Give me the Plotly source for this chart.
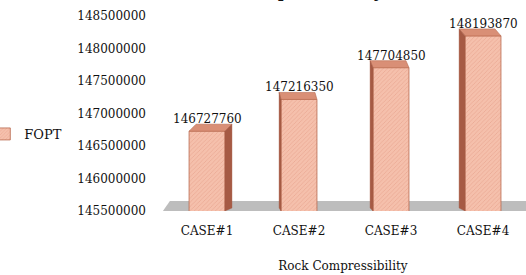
import plotly.graph_objects as go

# ---- data ----
categories = ["CASE#1", "CASE#2", "CASE#3", "CASE#4"]
fopt_values = [146727760, 147216350, 147704850, 148193870]
series_name = "FOPT"
y_tick_values = [145500000, 146000000, 146500000, 147000000, 147500000, 148000000, 148500000]
x_title = "Rock Compressibility"
chart_title = "FOPT vs Rock Compressibility"

# ---- style ----
W, H = 526, 275
ML, MR, MT, MB = 160, 0, 16, 64
Y_MIN, Y_MAX = 145500000, 148500000
X_RANGE = [-0.511, 3.467]
BAR_W = 0.39
FONT = "DejaVu Serif"
FACE = "#F5C0AC"
PAT = "#E0907A"
EDGE = "#B8694F"
TOP = "#D98F76"
SIDE = "#A65A44"
FLOOR = "#BDBDBD"
side_px = [7, -2, -3, -6]   # perspective offset of each bar's depth faces, in px
depth_px = 7

plot_w = W - ML - MR
plot_h = H - MT - MB
px_x = (X_RANGE[1] - X_RANGE[0]) / plot_w
px_y = (Y_MAX - Y_MIN) / plot_h

xs = list(range(len(categories)))

fig = go.Figure()
fig.add_trace(go.Bar(
    x=xs, y=fopt_values, name=series_name, width=BAR_W,
    marker=dict(color=FACE, line=dict(color=EDGE, width=0.8),
                pattern=dict(shape="/", size=3, solidity=0.25, fgcolor=PAT, bgcolor=FACE)),
    showlegend=True, hoverinfo="skip",
))

shapes = []
# floor
dy_floor = 10 * px_y
shapes.append(dict(type="path", xref="paper", yref="y", layer="below",
                   path=f"M 0.008 {Y_MIN} L 1 {Y_MIN} L 1 {Y_MIN + dy_floor} L 0.027 {Y_MIN + dy_floor} Z",
                   fillcolor=FLOOR, line=dict(width=0)))

annotations = []
for i, v in enumerate(fopt_values):
    x0, x1 = i - BAR_W / 2, i + BAR_W / 2
    dx = side_px[i] * px_x
    dy = depth_px * px_y
    # top face
    shapes.append(dict(type="path", xref="x", yref="y", layer="above",
                       path=f"M {x0} {v} L {x1} {v} L {x1 + dx} {v + dy} L {x0 + dx} {v + dy} Z",
                       fillcolor=TOP, line=dict(color=EDGE, width=0.6)))
    # side face
    xs_edge = x1 if dx > 0 else x0
    shapes.append(dict(type="path", xref="x", yref="y", layer="above",
                       path=f"M {xs_edge} {Y_MIN} L {xs_edge} {v} L {xs_edge + dx} {v + dy} L {xs_edge + dx} {Y_MIN + dy_floor * 0.3} Z",
                       fillcolor=SIDE, line=dict(color=SIDE, width=0.4)))
    annotations.append(dict(x=i, y=v, xref="x", yref="y", text=str(v), showarrow=False,
                            yanchor="bottom", yshift=3, font=dict(family=FONT, size=12, color="#111111")))

# clipped title (only descenders visible in reference)
annotations.append(dict(xref="paper", yref="paper", x=(387 - ML) / plot_w, y=1, xanchor="right",
                        yanchor="bottom", yshift=13, text=chart_title, showarrow=False,
                        font=dict(family=FONT, size=19, color="#111111")))

fig.update_layout(
    width=W, height=H,
    margin=dict(l=ML, r=MR, t=MT, b=MB, pad=0, autoexpand=False),
    paper_bgcolor="white", plot_bgcolor="white",
    font=dict(family=FONT, size=12, color="#111111"),
    shapes=shapes, annotations=annotations,
    showlegend=True,
    legend=dict(x=-0.48, y=0.395, xanchor="left", yanchor="middle",
                font=dict(family=FONT, size=13, color="#111111"),
                bgcolor="rgba(0,0,0,0)", itemwidth=30),
)
fig.update_xaxes(range=X_RANGE, tickvals=xs, ticktext=categories, showgrid=False,
                 zeroline=False, showline=False, ticks="", ticklabelstandoff=11,
                 automargin=False,
                 tickfont=dict(family=FONT, size=12),
                 title=dict(text=x_title, font=dict(family=FONT, size=12), standoff=24))
fig.update_yaxes(range=[Y_MIN, Y_MAX], tickvals=y_tick_values,
                 ticktext=[str(v) for v in y_tick_values], showgrid=False,
                 zeroline=False, showline=False, ticks="", ticklabelstandoff=13,
                 automargin=False,
                 tickfont=dict(family=FONT, size=12))

fig.write_html("out.html", config={"displayModeBar": False},
               post_script="document.body.style.margin='0';document.body.style.overflow='hidden';")
